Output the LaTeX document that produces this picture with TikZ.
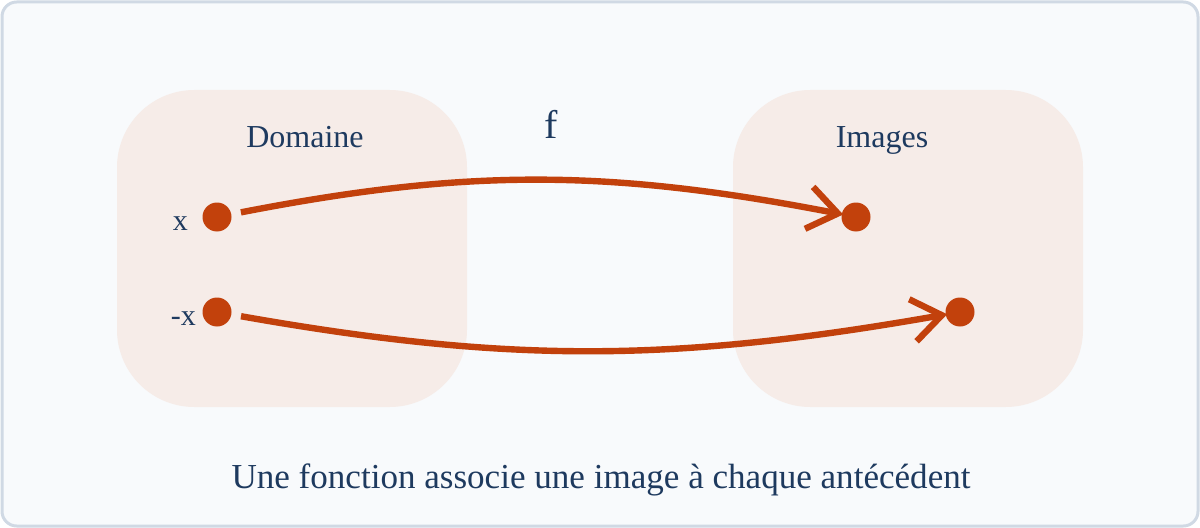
\documentclass[tikz,border=0pt]{standalone}
\usepackage{fontspec}
\setmainfont{Liberation Serif}
\usetikzlibrary{arrows.meta, positioning}
\definecolor{frameline}{HTML}{D0D9E4}
\definecolor{framefill}{HTML}{F8FAFC}
\definecolor{setfill}{HTML}{F6ECE8}
\definecolor{ink}{HTML}{1E3A5F}
\definecolor{rust}{HTML}{C2410C}

\begin{document}
\begin{tikzpicture}[x=0.75pt, y=-0.75pt, >={Straight Barb[length=22pt, width=32pt]}, line width=4.8pt]
        \tikzstyle{set} = [draw=none, fill=setfill, rounded corners=58pt, minimum width=262.5pt, minimum height=237.75pt]
        \tikzstyle{point} = [circle, fill=rust, inner sep=0pt, minimum size=21.75pt]
        \tikzstyle{title} = [text=ink, font=\fontsize{24}{28}\selectfont, anchor=base]
        \tikzstyle{elem} = [text=ink, font=\fontsize{22.5}{26}\selectfont, anchor=base east, inner sep=0pt]
        \tikzstyle{map} = [->, draw=rust, shorten <=5pt, shorten >=-3.5pt]

        \useasboundingbox (0,0) rectangle (1200,528);
        \draw[frameline, fill=framefill, line width=2.25pt, rounded corners=11pt] (2,2) rectangle (1198,526);

        \node[set](domain) at (292,248.5) {};
        \node[set](images) at (908,248.5) {};
        \node[title](domain_title) at (305,147) {Domaine};
        \node[title](images_title) at (882,147) {Images};
        \node[title, font=\fontsize{30}{34}\selectfont](f) at (551,138) {f};

        \node[point](x) at (217,217) {};
        \node[point](neg_x) at (217,312) {};
        \node[point](fx) at (856,217) {};
        \node[point](f_neg_x) at (960,312) {};
        \node[elem](x_label) at (191,230) {x};
        \node[elem](neg_x_label) at (199,325) {-x};

        \path (x) edge[map, bend left=11] (fx)
              (neg_x) edge[map, bend right=10] (f_neg_x);

        \node[title, font=\fontsize{26.3}{30}\selectfont](caption) at (601,488) {Une fonction associe une image à chaque antécédent};
    \end{tikzpicture}
\end{document}
